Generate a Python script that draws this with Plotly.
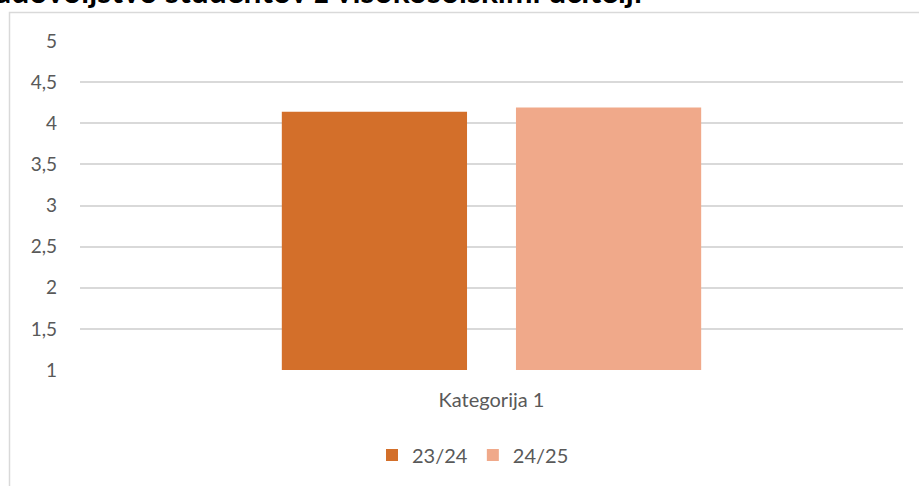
import plotly.graph_objects as go

categories = ["Kategorija 1"]
series_names = ["23/24", "24/25"]
values_2324 = [4.14]
values_2425 = [4.19]
tick_vals = [1, 1.5, 2, 2.5, 3, 3.5, 4, 4.5, 5]
colors = ["#D36F2A", "#F0A98A"]
title_text = "Zadovoljstvo študentov z visokošolskimi učitelji"

W, H = 919, 486
L, R, T = 80, 16, 41
B = H - 370
pw = W - L - R
ph = H - T - B

def px_x(x):
    return (x - L) / pw

def px_y(y):
    return (H - B - y) / ph

fig = go.Figure()
for name, vals, col in zip(series_names, [values_2324, values_2425], colors):
    fig.add_trace(go.Bar(x=categories, y=vals, name=name, marker=dict(color=col, line=dict(width=0))))

font_family = "Lato, 'Open Sans', sans-serif"
fig.update_layout(
    width=W, height=H,
    margin=dict(l=L, r=R, t=T, b=B, pad=0),
    paper_bgcolor="white", plot_bgcolor="white",
    barmode="group", bargap=0.431, bargroupgap=0.209,
    separators=",.",
    font=dict(family=font_family, color="#595959", size=19),
    showlegend=True,
    legend=dict(orientation="h", x=px_x(473), xanchor="center", y=px_y(455), yanchor="middle",
                font=dict(size=20, color="#595959"), itemwidth=30, traceorder="normal"),
    xaxis=dict(showgrid=False, showline=False, zeroline=False, ticks="", tickfont=dict(size=20, color="#595959"),
               ticklabelstandoff=16),
    yaxis=dict(range=[1, 5], tickvals=tick_vals, showgrid=True, gridcolor="#D9D9D9", gridwidth=1.5,
               zeroline=False, showline=False, ticks="", tickfont=dict(size=19, color="#595959"),
               ticklabelstandoff=22),
)

fig.add_shape(type="rect", xref="paper", yref="paper",
              x0=px_x(9.5), x1=px_x(960), y0=px_y(600), y1=px_y(12.5),
              line=dict(color="#D9D9D9", width=1.5), fillcolor="rgba(0,0,0,0)", layer="below")

fig.add_annotation(text="<b>" + title_text + "</b>", xref="paper", yref="paper",
                   x=px_x(644), xanchor="right", y=px_y(12), yanchor="bottom",
                   showarrow=False, font=dict(size=31.7, color="black", family=font_family))

fig.write_html("out.html", config={"displayModeBar": False},
               post_script="document.body.style.margin='0px';document.body.style.padding='0px';")
